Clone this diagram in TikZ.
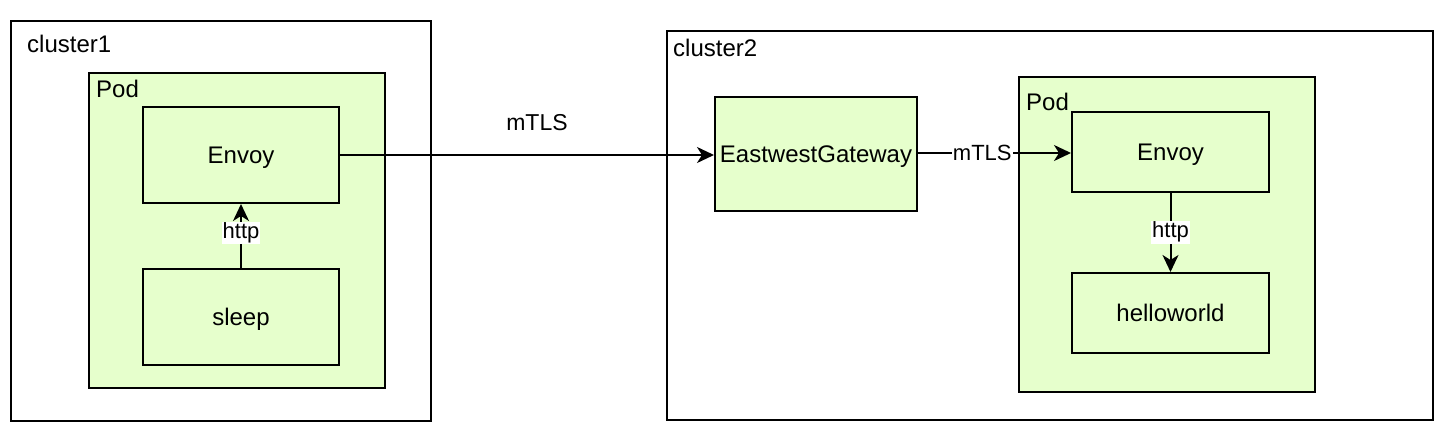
\documentclass[tikz,border=0pt]{standalone}
\usepackage{fontspec}
\setmainfont{Liberation Sans}
\usetikzlibrary{arrows.meta}
\definecolor{podfill}{HTML}{E6FFCC}
\tikzset{
  box/.style={draw=black, line width=2pt, rectangle, inner sep=0pt, anchor=center, font=\fontsize{24}{28}\selectfont, text height=22pt, text depth=5pt},
  frame/.style={box, fill=white},
  green/.style={box, fill=podfill},
  corner/.style={anchor=west, inner sep=0pt, font=\fontsize{24}{28}\selectfont},
  conn/.style={line width=2pt, -{Stealth[length=17pt, width=16pt, inset=5pt]}},
  elabel/.style={fill=white, inner sep=1pt, font=\fontsize{22}{25}\selectfont},
}
\begin{document}
\begin{tikzpicture}[x=1pt, y=-1pt]
\useasboundingbox (0,0) rectangle (1444,436);
% cluster1
\node[frame, minimum width=420pt, minimum height=400pt] (c1) at (221,221) {};
\node[corner] (c1l) at (27,44) {cluster1};
\node[green, minimum width=296pt, minimum height=315pt] (p1) at (237,230.5) {};
\node[corner] (p1l) at (96,89) {Pod};
\node[green, minimum width=196pt, minimum height=96pt] (e1) at (241,155) {Envoy};
\node[green, minimum width=196pt, minimum height=96pt] (sl) at (241,317) {sleep};
% cluster2
\node[frame, minimum width=766pt, minimum height=389pt] (c2) at (1050,225.5) {};
\node[corner] (c2l) at (673,48) {cluster2};
\node[green, minimum width=202pt, minimum height=114pt] (gw) at (816,154) {EastwestGateway};
\node[green, minimum width=296pt, minimum height=315pt] (p2) at (1167,234.5) {};
\node[corner] (p2l) at (1026,102) {Pod};
\node[green, minimum width=197pt, minimum height=80pt] (e2) at (1170.5,151.5) {Envoy};
\node[green, minimum width=197pt, minimum height=80pt] (hw) at (1170.5,313) {helloworld};
% connectors
\draw[conn] (sl.north) -- node[elabel, pos=0.55] (lh1) {http} (e1.south);
\draw[conn] (e1.east) -- (gw.west |- e1.east);
\node[font=\fontsize{23}{26}\selectfont] (lm1) at (537,123) {mTLS};
\draw[conn] (gw.east |- 0,153) -- node[elabel, pos=0.42] (lm2) {mTLS} (e2.west |- 0,153);
\draw[conn] (e2.south) -- node[elabel, pos=0.5] (lh2) {http} (hw.north);
\end{tikzpicture}
\end{document}
